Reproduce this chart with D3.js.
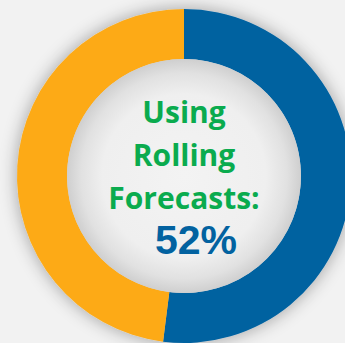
<!DOCTYPE html>
<html>
<head>
<meta charset="utf-8">
<script src="https://cdn.jsdelivr.net/npm/d3@7"></script>
<style>
  html, body { margin: 0; padding: 0; background: #f2f2f2; }
  svg { display: block; }
</style>
</head>
<body>
<script>
// Share of companies using rolling forecasts
const categories = ["Using rolling forecasts", "Not using"];
const values = [52, 48];
const colors = ["#0262a0", "#fdaa17"];
const titleLines = ["Using", "Rolling", "Forecasts:"];
const valueLabel = values[0] + "%";

const width = 345, height = 343;
const cx = 184, cy = 176;
const outerR = 167, innerR = 117;

const svg = d3.select("body").append("svg")
  .attr("width", width).attr("height", height);

const defs = svg.append("defs");

const shadow = defs.append("filter").attr("id", "ringShadow")
  .attr("x", "-30%").attr("y", "-30%").attr("width", "160%").attr("height", "160%");
shadow.append("feGaussianBlur").attr("in", "SourceAlpha").attr("stdDeviation", 9).attr("result", "b");
shadow.append("feOffset").attr("in", "b").attr("dx", 0).attr("dy", 0).attr("result", "o");
shadow.append("feComponentTransfer").attr("in", "o").attr("result", "s")
  .append("feFuncA").attr("type", "linear").attr("slope", 0.35);
const merge = shadow.append("feMerge");
merge.append("feMergeNode").attr("in", "s");
merge.append("feMergeNode").attr("in", "SourceGraphic");

const holeGrad = defs.append("radialGradient").attr("id", "hole")
  .attr("cx", "50%").attr("cy", "50%").attr("r", "50%");
holeGrad.append("stop").attr("offset", "0%").attr("stop-color", "#f3f3f3");
holeGrad.append("stop").attr("offset", "70%").attr("stop-color", "#efefef");
holeGrad.append("stop").attr("offset", "88%").attr("stop-color", "#e1e1e1");
holeGrad.append("stop").attr("offset", "100%").attr("stop-color", "#cfcfcf");

const g = svg.append("g").attr("transform", `translate(${cx},${cy})`);

const pie = d3.pie().sort(null).value(d => d)
  .startAngle(0).endAngle(2 * Math.PI);
const arc = d3.arc().innerRadius(innerR).outerRadius(outerR);

g.append("g").attr("filter", "url(#ringShadow)")
  .selectAll("path")
  .data(pie(values))
  .join("path")
  .attr("d", arc)
  .attr("fill", (d, i) => colors[i]);

g.append("circle").attr("r", innerR).attr("fill", "url(#hole)");

const lineY = [123, 166, 209];
g.selectAll("text.title")
  .data(titleLines)
  .join("text")
  .attr("class", "title")
  .attr("x", 0)
  .attr("y", (d, i) => lineY[i] - cy)
  .attr("text-anchor", "middle")
  .attr("font-family", "'Open Sans', sans-serif")
  .attr("font-weight", 700)
  .attr("font-size", 30)
  .attr("fill", "#0aab4e")
  .text(d => d);

g.append("text")
  .attr("x", 196 - cx)
  .attr("y", 254 - cy)
  .attr("text-anchor", "middle")
  .attr("font-family", "'Liberation Sans', Arial, sans-serif")
  .attr("font-weight", 700)
  .attr("font-size", 41)
  .attr("fill", "#0262a0")
  .text(valueLabel);
</script>
</body>
</html>
